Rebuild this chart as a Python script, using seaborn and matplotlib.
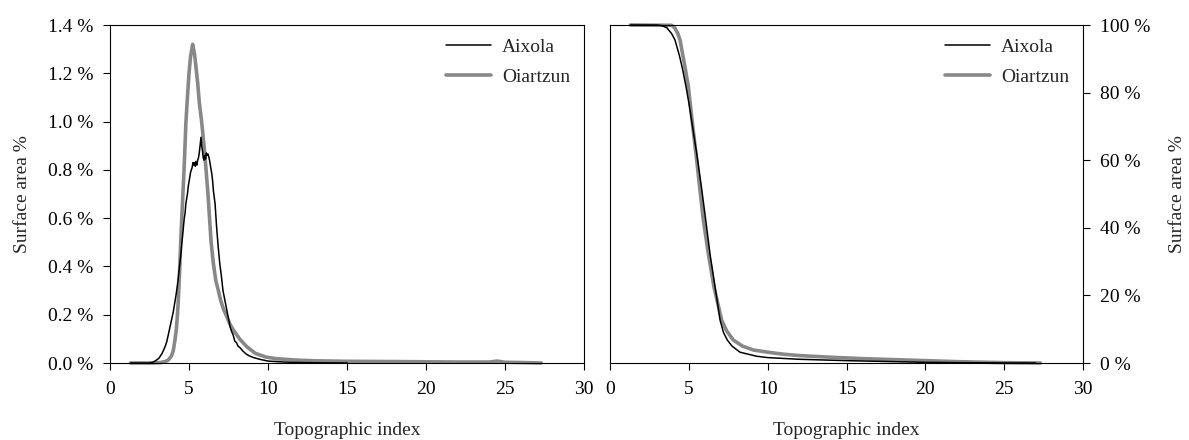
import numpy as np
import pandas as pd
import matplotlib
matplotlib.use("Agg")
import matplotlib.pyplot as plt
import seaborn as sns
from matplotlib.ticker import FuncFormatter

# ---- data ----
# Left panel: distribution of topographic index (surface area % per class)
aix_pdf_x = [1.3, 2.0, 2.5, 2.7, 2.9, 3.1, 3.3, 3.4, 3.5, 3.6, 3.7, 3.8, 3.9, 4.0,
             4.1, 4.2, 4.3, 4.4, 4.5, 4.55, 4.6, 4.7, 4.75, 4.8, 4.9, 4.95, 5.0, 5.05,
             5.1, 5.15, 5.2, 5.25, 5.3, 5.35, 5.4, 5.45, 5.5, 5.55, 5.6, 5.65, 5.7,
             5.76, 5.8, 5.85, 5.9, 5.95, 6.0, 6.05, 6.1, 6.15, 6.2, 6.25, 6.3, 6.35,
             6.45, 6.5, 6.55, 6.65, 6.75, 6.85, 6.95, 7.05, 7.15, 7.3, 7.45, 7.6,
             7.7, 7.8, 7.9, 8.0, 8.1, 8.25, 8.4, 8.6, 8.8, 9.1, 9.5, 10.0, 11.0,
             12.0, 13.0, 15.0]
aix_pdf_y = [0.0, 0.0, 0.0, 0.003, 0.010, 0.020, 0.040, 0.055, 0.070, 0.090, 0.120,
             0.150, 0.180, 0.210, 0.250, 0.290, 0.340, 0.400, 0.460, 0.500, 0.530,
             0.600, 0.620, 0.660, 0.700, 0.730, 0.750, 0.770, 0.790, 0.800, 0.810,
             0.830, 0.820, 0.830, 0.815, 0.835, 0.820, 0.840, 0.850, 0.870, 0.900,
             0.935, 0.900, 0.880, 0.850, 0.840, 0.860, 0.845, 0.870, 0.860, 0.865,
             0.855, 0.840, 0.820, 0.780, 0.750, 0.710, 0.660, 0.560, 0.480, 0.410,
             0.360, 0.300, 0.250, 0.200, 0.150, 0.130, 0.115, 0.090, 0.085, 0.070,
             0.062, 0.050, 0.038, 0.030, 0.022, 0.015, 0.008, 0.004, 0.002, 0.001,
             0.0]
oia_pdf_x = [1.3, 2.5, 3.0, 3.2, 3.5, 3.7, 3.9, 4.0, 4.1, 4.2, 4.3, 4.4, 4.5, 4.6,
             4.7, 4.8, 4.9, 5.0, 5.1, 5.23, 5.35, 5.45, 5.55, 5.65, 5.8, 5.95, 6.08,
             6.2, 6.3, 6.4, 6.54, 6.7, 6.86, 7.0, 7.2, 7.34, 7.6, 7.8, 8.2, 8.65,
             9.2, 9.85, 10.5, 11.8, 13.0, 15.0, 18.0, 20.0, 22.0, 24.0, 24.5, 25.0,
             26.0, 27.3]
oia_pdf_y = [0.0, 0.0, 0.001, 0.002, 0.006, 0.013, 0.030, 0.050, 0.090, 0.140,
             0.230, 0.370, 0.540, 0.680, 0.820, 0.990, 1.100, 1.200, 1.270, 1.320,
             1.280, 1.220, 1.160, 1.080, 1.000, 0.900, 0.800, 0.700, 0.600, 0.500,
             0.413, 0.340, 0.300, 0.260, 0.220, 0.200, 0.160, 0.137, 0.100, 0.068,
             0.040, 0.025, 0.018, 0.012, 0.009, 0.007, 0.006, 0.005, 0.004, 0.004,
             0.008, 0.003, 0.002, 0.0]

# Right panel: cumulative surface area (%) with index greater than x
aix_cum_x = [1.3, 3.0, 3.3, 3.6, 3.9, 4.12, 4.4, 4.6, 4.82, 5.0, 5.2, 5.5, 5.8,
             6.07, 6.35, 6.66, 6.98, 7.2, 7.44, 7.74, 8.24, 9.3, 10.0, 12.0, 15.0,
             18.0, 20.0, 22.0, 25.0, 27.0]
aix_cum_y = [100.0, 100.0, 99.8, 99.2, 97.5, 95.6, 91.0, 87.0, 81.8, 77.0, 71.0,
             62.0, 52.0, 42.3, 32.0, 22.6, 12.7, 9.0, 6.8, 5.0, 3.2, 2.0, 1.6, 1.1,
             0.7, 0.4, 0.2, 0.1, 0.02, 0.0]
oia_cum_x = [1.3, 3.91, 4.1, 4.3, 4.44, 4.7, 4.97, 5.2, 5.45, 5.7, 5.92, 6.25,
             6.59, 7.08, 7.4, 7.82, 8.4, 9.09, 10.0, 11.0, 12.0, 14.0, 16.0, 18.0,
             20.0, 22.0, 24.0, 25.0, 27.3]
oia_cum_y = [100.0, 99.9, 99.2, 97.5, 95.6, 89.0, 81.8, 72.0, 62.0, 51.5, 42.3,
             32.0, 22.6, 12.7, 9.5, 6.8, 5.0, 3.85, 3.2, 2.6, 2.2, 1.7, 1.3, 1.0,
             0.7, 0.4, 0.2, 0.1, 0.0]

series_names = ["Aixola", "Oiartzun"]
series_colors = {"Aixola": "#000000", "Oiartzun": "#888888"}
series_widths = {"Aixola": 1.1, "Oiartzun": 2.6}
x_ticks = [0, 5, 10, 15, 20, 25, 30]
left_yticks = [0.0, 0.2, 0.4, 0.6, 0.8, 1.0, 1.2, 1.4]
right_yticks = [0, 20, 40, 60, 80, 100]

# ---- style ----
sns.set_style("ticks")
plt.rcParams["font.family"] = ["Liberation Serif", "DejaVu Serif"]
plt.rcParams["font.size"] = 14
plt.rcParams["axes.linewidth"] = 0.8

fig = plt.figure(figsize=(11.89, 4.40), dpi=100)
axL = fig.add_axes([110 / 1189, 77 / 440, 474 / 1189, 338 / 440])
axR = fig.add_axes([610 / 1189, 77 / 440, 473 / 1189, 338 / 440])

pdf_df = pd.concat([
    pd.DataFrame({"x": aix_pdf_x, "y": aix_pdf_y, "site": "Aixola"}),
    pd.DataFrame({"x": oia_pdf_x, "y": oia_pdf_y, "site": "Oiartzun"}),
])
cum_df = pd.concat([
    pd.DataFrame({"x": aix_cum_x, "y": aix_cum_y, "site": "Aixola"}),
    pd.DataFrame({"x": oia_cum_x, "y": oia_cum_y, "site": "Oiartzun"}),
])

for ax, df in [(axL, pdf_df), (axR, cum_df)]:
    for name in series_names:
        sub = df[df["site"] == name]
        sns.lineplot(data=sub, x="x", y="y", ax=ax, color=series_colors[name],
                     linewidth=series_widths[name], label=name, sort=False,
                     estimator=None, clip_on=False, zorder=3 if name == "Aixola" else 2)
    ax.set_xlim(0, 30)
    ax.set_xticks(x_ticks)
    for s in ax.spines.values():
        s.set_visible(True)
        s.set_color("black")
        s.set_linewidth(0.8)
    ax.tick_params(direction="out", length=5, width=0.8, colors="black", labelsize=14)
    ax.tick_params(axis="x", pad=8)
    ax.set_xlabel("Topographic index", fontsize=14, labelpad=17)
    ax.legend(loc="upper right", frameon=False, fontsize=14,
              handlelength=2.3, handletextpad=0.6, labelspacing=0.6,
              borderaxespad=0.3, bbox_to_anchor=(1.0, 1.0))

axL.set_ylim(0, 1.4)
axL.set_yticks(left_yticks)
axL.yaxis.set_major_formatter(FuncFormatter(lambda v, p: f"{v:.1f} %"))
axL.tick_params(axis="y", pad=7)
axL.set_ylabel("Surface area %", fontsize=14, labelpad=12)

axR.set_ylim(0, 100)
axR.set_yticks(right_yticks)
axR.yaxis.set_major_formatter(FuncFormatter(lambda v, p: f"{v:.0f} %"))
axR.yaxis.tick_right()
axR.yaxis.set_label_position("right")
axR.tick_params(axis="y", pad=7, left=False, labelleft=False, right=True, labelright=True)
axR.set_ylabel("Surface area %", fontsize=14, labelpad=14)

fig.savefig("out.png", dpi=100)
